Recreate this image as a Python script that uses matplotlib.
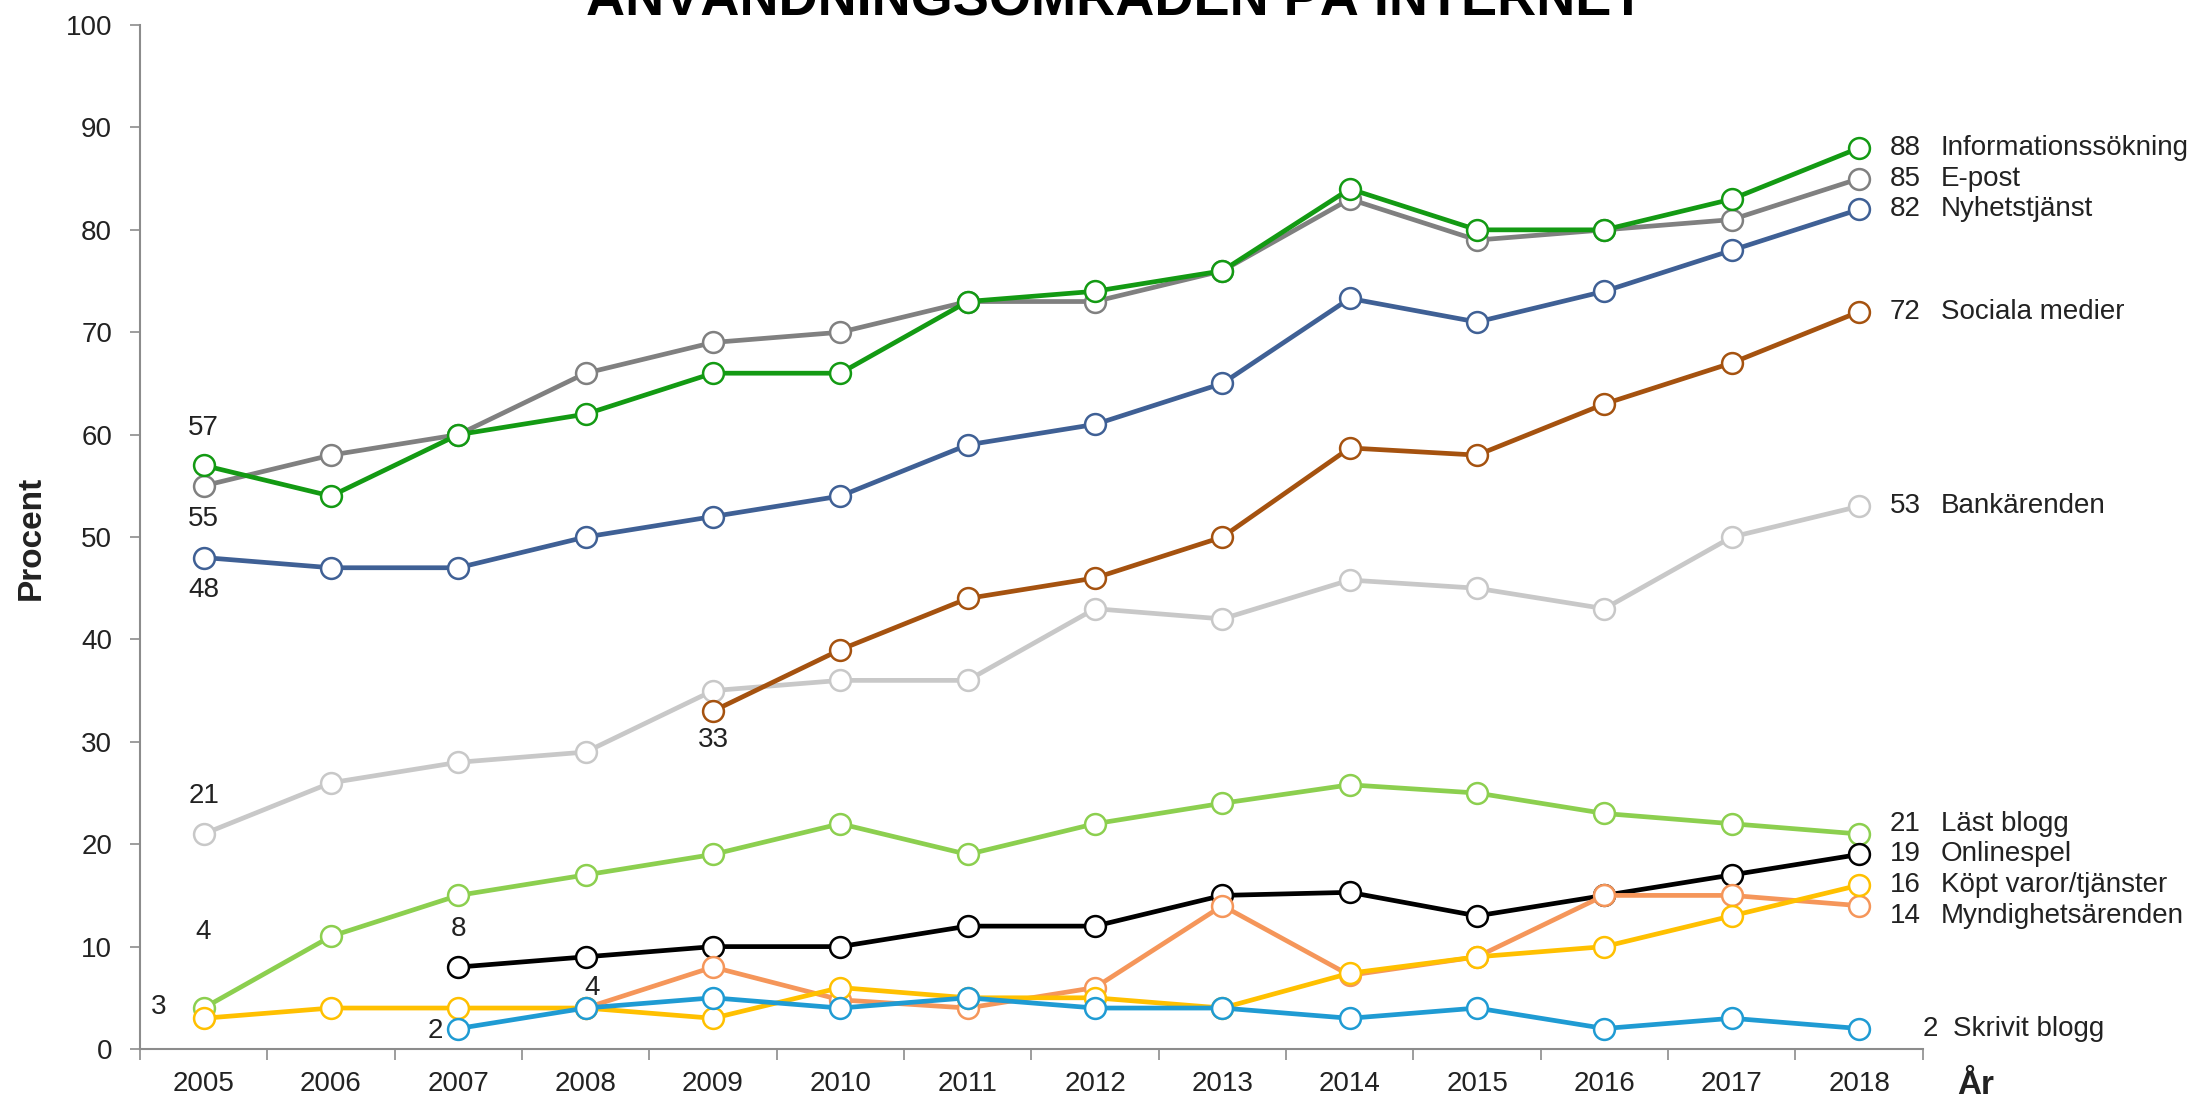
import numpy as np
import matplotlib
matplotlib.use("Agg")
import matplotlib.pyplot as plt

plt.rcParams['font.family'] = ['Liberation Sans', 'DejaVu Sans']

nan = np.nan
years = ["2005", "2006", "2007", "2008", "2009", "2010", "2011",
         "2012", "2013", "2014", "2015", "2016", "2017", "2018"]

# values, nan where the series had not started yet
bank = [21, 26, 28, 29, 35, 36, 36, 43, 42, 45.8, 45, 43, 50, 53]
sociala = [nan, nan, nan, nan, 33, 39, 44, 46, 50, 58.7, 58, 63, 67, 72]
nyhet = [48, 47, 47, 50, 52, 54, 59, 61, 65, 73.3, 71, 74, 78, 82]
epost = [55, 58, 60, 66, 69, 70, 73, 73, 76, 83, 79, 80, 81, 85]
info = [57, 54, 60, 62, 66, 66, 73, 74, 76, 84, 80, 80, 83, 88]
lastblogg = [4, 11, 15, 17, 19, 22, 19, 22, 24, 25.8, 25, 23, 22, 21]
online = [nan, nan, 8, 9, 10, 10, 12, 12, 15, 15.3, 13, 15, 17, 19]
myndighet = [nan, nan, nan, 4, 8, 4.8, 4, 6, 14, 7.2, 9, 15, 15, 14]
kopt = [3, 4, 4, 4, 3, 6, 5, 5, 4, 7.4, 9, 10, 13, 16]
skrivit = [nan, nan, 2, 4, 5, 4, 5, 4, 4, 3, 4, 2, 3, 2]

names = ["Bankärenden", "Sociala medier", "Nyhetstjänst", "E-post",
         "Informationssökning", "Läst blogg", "Onlinespel",
         "Myndighetsärenden", "Köpt varor/tjänster", "Skrivit blogg"]
series = [bank, sociala, nyhet, epost, info, lastblogg, online,
          myndighet, kopt, skrivit]
colors = ["#c8c8c8", "#a5520f", "#3f6095", "#808080", "#139a13",
          "#8ccf4f", "#000000", "#f5965a", "#ffc000", "#1f9bd3"]
end_labels = ["53", "72", "82", "85", "88", "21", "19", "14", "16", "2"]
# nudge of the right hand labels (in y units) so they do not collide
end_shift = [0, 0, 0, 0, 0, 1, 0, -1, 0, 0]

textcol = "#222222"
axcol = "#8c8c8c"

fig = plt.figure(figsize=(21.93, 10.99), dpi=100)
ax = fig.add_axes([0.0638, 0.0455, 0.813, 0.9317])

x = np.arange(len(years))
for s, c in zip(series, colors):
    ax.plot(x, s, color=c, lw=3.4, marker="o", ms=15, mfc="white",
            mec=c, mew=1.8, zorder=3)

# labels on the right side
for s, lab, name, dy in zip(series, end_labels, names, end_shift):
    yv = s[-1] + dy
    if name == "Skrivit blogg":
        ax.text(13.5, yv, lab, fontsize=20, color=textcol, va="center")
        ax.text(13.74, yv, name, fontsize=20, color=textcol, va="center")
    else:
        ax.text(13.24, yv, lab, fontsize=20, color=textcol, va="center")
        ax.text(13.64, yv, name, fontsize=20, color=textcol, va="center")

# start values on the left
ax.text(0, info[0] + 3.6, "57", fontsize=20, color=textcol, ha="center", va="center")
ax.text(0, epost[0] - 3.2, "55", fontsize=20, color=textcol, ha="center", va="center")
ax.text(0, nyhet[0] - 3.2, "48", fontsize=20, color=textcol, ha="center", va="center")
ax.text(0, bank[0] + 3.7, "21", fontsize=20, color=textcol, ha="center", va="center")
ax.text(0, lastblogg[0] + 7.4, "4", fontsize=20, color=textcol, ha="center", va="center")
ax.text(-0.35, kopt[0] + 1.1, "3", fontsize=20, color=textcol, ha="center", va="center")
ax.text(2, online[2] + 3.7, "8", fontsize=20, color=textcol, ha="center", va="center")
ax.text(1.82, skrivit[2] - 0.2, "2", fontsize=20, color=textcol, ha="center", va="center")
ax.text(3.05, myndighet[3] + 2.0, "4", fontsize=20, color=textcol, ha="center", va="center")
ax.text(4, sociala[4] - 2.8, "33", fontsize=20, color=textcol, ha="center", va="center")

ax.set_xlim(-0.5, 13.5)
ax.set_ylim(0, 100)
ax.set_yticks(np.arange(0, 101, 10))
ax.set_xticks(np.arange(-0.5, 14, 1))
ax.set_xticklabels([])
ax.set_xticks(x, minor=True)
ax.set_xticklabels(years, minor=True)
ax.tick_params(axis="x", which="major", length=8, width=1.2, color=axcol)
ax.tick_params(axis="x", which="minor", length=0, pad=16, labelsize=20,
               labelcolor=textcol)
ax.tick_params(axis="y", length=7, width=1.2, color=axcol, pad=13,
               labelsize=20, labelcolor=textcol)

for side in ["top", "right"]:
    ax.spines[side].set_visible(False)
for side in ["left", "bottom"]:
    ax.spines[side].set_color(axcol)
    ax.spines[side].set_linewidth(1.5)

fig.text(0.0141, 0.511, "Procent", rotation=90, fontsize=24, fontweight="bold",
         color=textcol, ha="center", va="center")
fig.text(0.901, 0.005, "År", fontsize=24, fontweight="bold", color=textcol,
         ha="center", va="baseline")
# the title is partly above the top edge, as in the original
fig.text(0.5085, 0.9864, "ANVÄNDNINGSOMRÅDEN PÅ INTERNET", fontsize=39,
         fontweight="bold", color="black", ha="center", va="baseline")

fig.savefig("out.png", dpi=100)
